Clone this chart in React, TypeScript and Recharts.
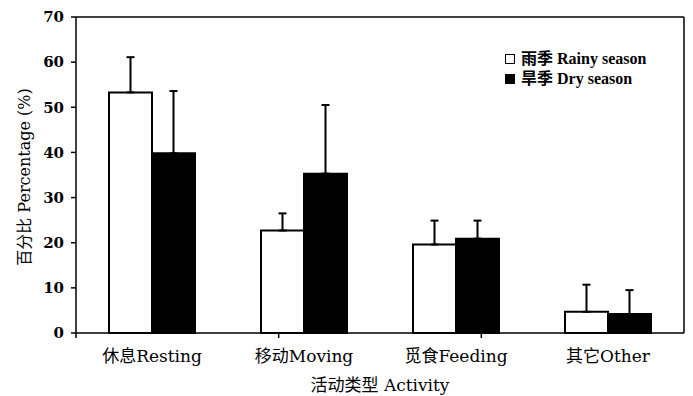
import { BarChart, Bar, XAxis, YAxis, ErrorBar, Legend } from "recharts";

const categories = ["休息Resting", "移动Moving", "觅食Feeding", "其它Other"];
const rainy = [53.3, 22.7, 19.6, 4.7];
const rainyErr = [7.8, 3.8, 5.3, 6.0];
const dry = [39.8, 35.3, 20.9, 4.2];
const dryErr = [13.8, 15.2, 4.0, 5.3];
const yTicks = [0, 10, 20, 30, 40, 50, 60, 70];
const edgeTicks = [0, 1, 2, 3, 4];

const data = categories.map((name, i) => ({
  name,
  rainy: rainy[i],
  rainyErr: [0, rainyErr[i]],
  dry: dry[i],
  dryErr: [0, dryErr[i]],
}));

const serif = "'DejaVu Serif', 'Noto Sans CJK SC', serif";
const legendFont = "'Liberation Serif', 'Noto Sans CJK SC', serif";

function LegendBox() {
  const rows = [
    { label: "雨季 Rainy season", fill: "#fff" },
    { label: "旱季 Dry season", fill: "#000" },
  ];
  return (
    <div style={{ fontFamily: legendFont, fontSize: 16, fontWeight: "bold", lineHeight: "20px" }}>
      {rows.map((r) => (
        <div key={r.label} style={{ display: "flex", alignItems: "center" }}>
          <span
            style={{
              display: "inline-block",
              width: 8,
              height: 8,
              border: "1.5px solid #000",
              background: r.fill,
              marginRight: 6,
            }}
          />
          <span>{r.label}</span>
        </div>
      ))}
    </div>
  );
}

export default function App() {
  return (
    <div style={{ position: "absolute", left: 0, top: 0, background: "#fff" }}>
      <BarChart
        width={693}
        height={396}
        data={data}
        margin={{ top: 16, right: 8, left: 0, bottom: 0 }}
        barSize={43}
        barGap={0}
      >
        <XAxis
          xAxisId="a-edge"
          type="number"
          domain={[0, 4]}
          ticks={edgeTicks}
          tick={() => <g />}
          axisLine={{ stroke: "#000", strokeWidth: 1.5 }}
          tickLine={{ stroke: "#000", strokeWidth: 1.5 }}
          tickSize={5}
          height={1}
        />
        <XAxis
          xAxisId="b-cat"
          dataKey="name"
          height={62}
          tickLine={false}
          axisLine={false}
          tickMargin={10}
          tick={{ fill: "#000", fontSize: 17, fontFamily: serif }}
          label={{
            content: (props: any) => {
              const vb = props.viewBox || {};
              return (
                <text
                  x={vb.x + vb.width / 2}
                  y={vb.y + 57}
                  textAnchor="middle"
                  fill="#000"
                  fontFamily={serif}
                  fontSize={17}
                >
                  活动类型 Activity
                </text>
              );
            },
          }}
        />
        <XAxis
          xAxisId="c-top"
          orientation="top"
          type="number"
          domain={[0, 4]}
          height={1}
          tick={false}
          tickLine={false}
          axisLine={{ stroke: "#000", strokeWidth: 1.5 }}
        />
        <YAxis
          domain={[0, 70]}
          ticks={yTicks}
          width={76}
          tickSize={5}
          tickMargin={7}
          tickLine={{ stroke: "#000", strokeWidth: 1.5 }}
          axisLine={{ stroke: "#000", strokeWidth: 1.5 }}
          tick={{ fill: "#000", fontSize: 15, fontWeight: "bold", fontFamily: serif }}
          label={{
            content: (props: any) => {
              const vb = props.viewBox || {};
              const cx = vb.x + 24;
              const cy = vb.y + vb.height / 2 + 2;
              return (
                <text
                  x={cx}
                  y={cy}
                  textAnchor="middle"
                  dominantBaseline="central"
                  transform={`rotate(-90, ${cx}, ${cy})`}
                  fill="#000"
                  fontFamily={serif}
                  fontSize={16}
                >
                  百分比 Percentage (%)
                </text>
              );
            },
          }}
        />
        <YAxis
          yAxisId="right"
          orientation="right"
          domain={[0, 70]}
          width={1}
          tick={false}
          tickLine={false}
          axisLine={{ stroke: "#000", strokeWidth: 1.5 }}
        />
        <Legend
          layout="vertical"
          align="center"
          verticalAlign="middle"
          content={() => <LegendBox />}
          wrapperStyle={{ top: 49, left: 505, width: 185 }}
        />
        <Bar xAxisId="b-cat" dataKey="rainy" fill="#fff" stroke="#000" strokeWidth={2} isAnimationActive={false}>
          <ErrorBar dataKey="rainyErr" direction="y" width={4} stroke="#000" strokeWidth={2} />
        </Bar>
        <Bar xAxisId="b-cat" dataKey="dry" fill="#000" stroke="#000" strokeWidth={2} isAnimationActive={false}>
          <ErrorBar dataKey="dryErr" direction="y" width={4} stroke="#000" strokeWidth={2} />
        </Bar>
      </BarChart>
    </div>
  );
}
